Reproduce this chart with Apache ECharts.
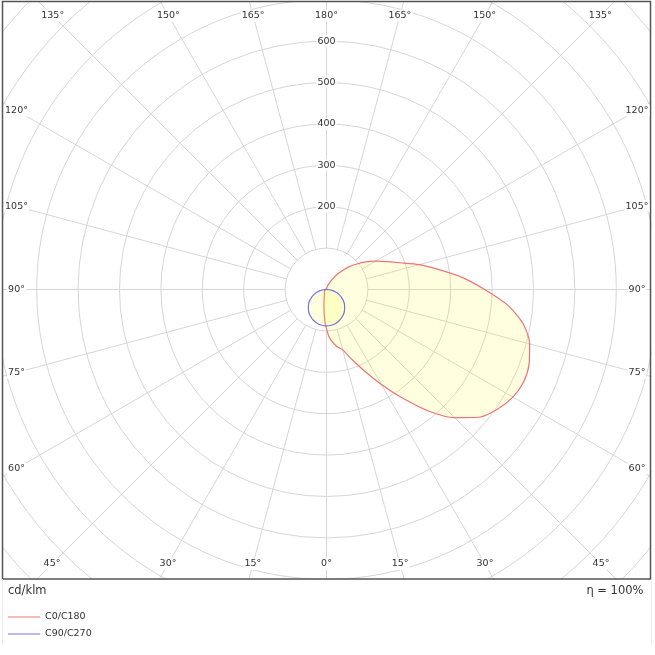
<!DOCTYPE html>
<html><head><meta charset="utf-8">
<script src="https://cdn.jsdelivr.net/npm/echarts@6/dist/echarts.min.js"></script>
<style>html,body{margin:0;padding:0;background:#fff}#c{width:655px;height:655px}</style>
</head><body><div id="c"></div>
<script>
// ---- data (cd/klm) ----
const c0Angles   = [0,2.5,5,10,15,20,25,30,35,40,45,50,55,60,65,70,75,80,85,90,95,100,105,110,115,120,125,130,135,140,145,150,155,160,165,170,175,180];
const c0Values   = [95,111,122,139,151,180,217,264,320,383,438,480,504,520,526,521,508,483,440,382,330,276,232,189,159,137,116,96,78,59,44,29,19,12,7,3,1,0];
const c180Angles = [0,2.5,5,7.5,10,12.5,15,20,30,45,60,90,120,150,180];
const c180Values = [95,80,62,46,35,28,22,16,10,7,5,3,2,1,0];
const c90Angles  = [0,7.5,15,22.5,30,37.5,45,52.5,60,67.5,75,82.5,90,120,150,180];
const c90Values  = [88,87,85,81,76,70,62,54,44,34,23,11,0,0,0,0];
const c270Angles = [0,7.5,15,22.5,30,37.5,45,52.5,60,67.5,75,82.5,90,120,150,180];
const c270Values = [88,87,85,81,76,70,62,54,44,34,23,11,0,0,0,0];
const radiusTickLabels = [200,300,400,500,600];
const angleTickLabels = [0,15,30,45,60,75,90,105,120,135,150,165,180];
const seriesNames = ['C0/C180','C90/C270'];
const unitText = 'cd/klm';
const effText = 'η = 100%';

// ---- styling ----
const FONT = '"DejaVu Sans", Verdana, sans-serif';
const TXT = '#333';
const GRID = '#d6d6d6';
const RED = '#f07272';
const BLUE = '#7474e6';
const FILL = 'rgba(255,255,0,0.12)';
const CX = 326.5, CY = 289.5, K = 0.414, RMAX = 1100;
const OUTER = RMAX * K;

function planeData(posA, posV, negA, negV) {
  const pts = [];
  for (let i = negA.length - 1; i >= 0; i--) if (negA[i] !== 0) pts.push([negV[i], -negA[i]]);
  for (let i = 0; i < posA.length; i++) pts.push([posV[i], posA[i]]);
  return pts;
}

const chart = echarts.init(document.getElementById('c'), null, {renderer: 'canvas'});
const hiddenAxis = {axisLine:{show:false}, axisTick:{show:false}, axisLabel:{show:false}, splitLine:{show:false}, splitArea:{show:false}};

chart.setOption({
  animation: false,
  backgroundColor: '#fff',
  polar: [
    {center: [CX, CY], radius: [100 * K, OUTER]},
    {center: [CX, CY], radius: [0, OUTER]}
  ],
  angleAxis: [
    Object.assign({polarIndex:0, type:'value', min:-180, max:180, interval:15, startAngle:90, clockwise:false}, hiddenAxis,
      {splitLine:{show:true, lineStyle:{color:GRID, width:1}}}),
    Object.assign({polarIndex:1, type:'value', min:-180, max:180, interval:15, startAngle:90, clockwise:false}, hiddenAxis)
  ],
  radiusAxis: [
    {polarIndex:0, type:'value', min:100, max:RMAX, interval:100, z:3,
     axisLine:{show:false}, axisTick:{show:false},
     splitLine:{show:true, lineStyle:{color:GRID, width:1}},
     axisLabel:{show:true, margin:0, align:'center', verticalAlign:'middle',
       formatter: v => radiusTickLabels.indexOf(v) >= 0 ? '{b|' + v + '}' : '',
       rich:{b:{backgroundColor:'#fff', padding:[1,1], fontSize:9.5, fontFamily:FONT, color:TXT}}}},
    Object.assign({polarIndex:1, type:'value', min:0, max:RMAX}, hiddenAxis)
  ],
  legend: {
    orient:'vertical', left:8, top:611, padding:0, icon:'rect', itemWidth:32, itemHeight:1, itemGap:5,
    selectedMode:false, z:100, data: seriesNames,
    textStyle:{fontSize:9.5, fontFamily:FONT, color:TXT, lineHeight:12}
  },
  series: [
    {type:'line', name:seriesNames[0], coordinateSystem:'polar', polarIndex:1,
     data: planeData(c0Angles, c0Values, c180Angles, c180Values),
     symbol:'none', smooth:0.25, clip:false,
     lineStyle:{color:RED, width:1.2}, itemStyle:{color:RED},
     areaStyle:{color:FILL, opacity:1}, z:3},
    {type:'line', name:seriesNames[1], coordinateSystem:'polar', polarIndex:1,
     data: planeData(c90Angles, c90Values, c270Angles, c270Values),
     symbol:'none', smooth:0.25, clip:false,
     lineStyle:{color:BLUE, width:1.2}, itemStyle:{color:BLUE},
     areaStyle:{color:FILL, opacity:1}, z:4}
  ]
});

// ---- angle labels placed where each spoke meets the inner label frame ----
const LBOX = {l:16.5, r:637, t:15.7, b:564};
const g = [];
// masks outside the plot frame
g.push({type:'rect', silent:true, z:50, shape:{x:0, y:579.5, width:655, height:76}, style:{fill:'#fff'}});
g.push({type:'rect', silent:true, z:50, shape:{x:0, y:0, width:2.5, height:655}, style:{fill:'#fff'}});
g.push({type:'rect', silent:true, z:50, shape:{x:651.5, y:0, width:4, height:655}, style:{fill:'#fff'}});
g.push({type:'rect', silent:true, z:50, shape:{x:0, y:0, width:655, height:1}, style:{fill:'#fff'}});
// frame
g.push({type:'rect', silent:true, z:60, shape:{x:2.5, y:1.5, width:648, height:577.5}, style:{fill:null, stroke:'#555', lineWidth:1.5}});
g.push({type:'line', silent:true, z:60, shape:{x1:2.5, y1:579, x2:2.5, y2:645}, style:{stroke:'#ececec', lineWidth:1}});
g.push({type:'line', silent:true, z:60, shape:{x1:651.5, y1:579, x2:651.5, y2:645}, style:{stroke:'#ececec', lineWidth:1}});

const center = [CX, CY];
function edgePoint(a) {
  const p = chart.convertToPixel({polarIndex:0}, [1000, a]);
  const dx = p[0] - center[0], dy = p[1] - center[1];
  let t = Infinity;
  if (dx > 1e-6) t = Math.min(t, (LBOX.r - center[0]) / dx);
  if (dx < -1e-6) t = Math.min(t, (LBOX.l - center[0]) / dx);
  if (dy > 1e-6) t = Math.min(t, (LBOX.b - center[1]) / dy);
  if (dy < -1e-6) t = Math.min(t, (LBOX.t - center[1]) / dy);
  return [center[0] + t * dx, center[1] + t * dy];
}
angleTickLabels.forEach(a => {
  const sides = (a === 0 || a === 180) ? [a] : [a, -a];
  sides.forEach(s => {
    const p = edgePoint(s);
    g.push({type:'text', silent:true, z:70, x:p[0], y:p[1],
      style:{text: a + '°', font:'9.5px ' + FONT, fill:TXT, align:'center', verticalAlign:'middle',
             backgroundColor:'#fff', padding:[1,1]}});
  });
});
g.push({type:'text', silent:true, z:70, x:8, y:591.5, style:{text:unitText, font:'11.5px ' + FONT, fill:TXT, align:'left', verticalAlign:'middle'}});
g.push({type:'text', silent:true, z:70, x:643.5, y:591.5, style:{text:effText, font:'11.5px ' + FONT, fill:TXT, align:'right', verticalAlign:'middle'}});

chart.setOption({graphic: {elements: g}});
</script>
</body></html>
